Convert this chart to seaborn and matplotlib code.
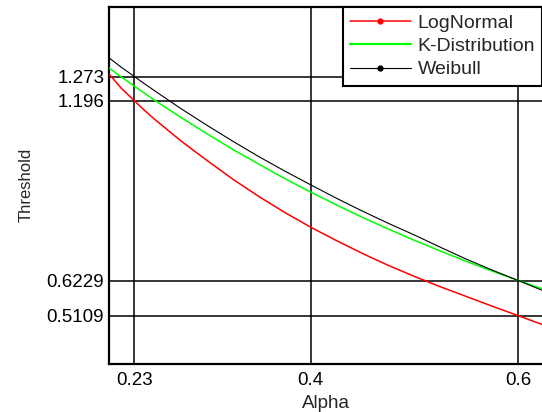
import numpy as np
import pandas as pd
import matplotlib
matplotlib.use("Agg")
import matplotlib.pyplot as plt
from matplotlib.lines import Line2D
import seaborn as sns

# =====================================================
# Data
# =====================================================

alpha = [0.2056, 0.2175, 0.24, 0.25, 0.275, 0.30, 0.325, 0.35, 0.375, 0.40,
         0.425, 0.45, 0.475, 0.50, 0.525, 0.55, 0.575, 0.60, 0.6228]

lognormal = [1.282, 1.236, 1.165, 1.136, 1.068, 1.006, 0.946, 0.891, 0.840, 0.793,
             0.750, 0.709, 0.671, 0.636, 0.603, 0.572, 0.541, 0.511, 0.483]
kdist = [1.301, 1.272, 1.220, 1.197, 1.143, 1.091, 1.041, 0.994, 0.948, 0.905,
         0.864, 0.824, 0.787, 0.751, 0.717, 0.684, 0.653, 0.623, 0.597]
weibull = [1.333, 1.303, 1.250, 1.227, 1.171, 1.118, 1.067, 1.018, 0.972, 0.928,
           0.885, 0.844, 0.805, 0.768, 0.729, 0.691, 0.656, 0.623, 0.592]

series_names = ["LogNormal", "K-Distribution", "Weibull"]
series_colors = ["#ff0000", "#00ff00", "#000000"]

x_ticks = [0.23, 0.4, 0.6]
x_tick_labels = ["0.23", "0.4", "0.6"]
y_ticks = [0.5109, 0.6229, 1.196, 1.273]
y_tick_labels = ["0.5109", "0.6229", "1.196", "1.273"]

df = pd.DataFrame({
    "Alpha": alpha * 3,
    "Threshold": lognormal + kdist + weibull,
    "Model": [n for n in series_names for _ in alpha],
})

# =====================================================
# Plot
# =====================================================

sns.set_style("white")
plt.rcParams["font.family"] = ["Liberation Sans", "DejaVu Sans"]

fig = plt.figure(figsize=(5.42, 4.12), dpi=100)
ax = fig.add_axes([109 / 542, 48.3 / 412, 433 / 542, 356.7 / 412])

sns.lineplot(
    data=df,
    x="Alpha",
    y="Threshold",
    hue="Model",
    palette=dict(zip(series_names, series_colors)),
    hue_order=series_names,
    legend=False,
    ax=ax,
)
widths = [1.1, 1.1, 0.8]
for line, lw in zip(ax.get_lines(), widths):
    line.set_linewidth(lw)
    line.set_zorder(3)

ax.set_xlim(0.2056, 0.6228)
ax.set_ylim(0.3578, 1.4952)

ax.set_xticks(x_ticks)
ax.set_xticklabels(x_tick_labels)
ax.set_yticks(y_ticks)
ax.set_yticklabels(y_tick_labels)
ax.tick_params(length=0, labelsize=13.5, colors="black")
ax.tick_params(axis="x", pad=6)
ax.tick_params(axis="y", pad=3.5)

ax.grid(True, color="black", linewidth=1.1)
ax.set_axisbelow(True)

for side in ["left", "bottom", "top"]:
    ax.spines[side].set_visible(True)
    ax.spines[side].set_color("black")
    ax.spines[side].set_linewidth(1.6)
ax.spines["right"].set_visible(False)

ax.set_xlabel("Alpha", fontsize=13.5, labelpad=4)
ax.set_ylabel("Threshold", fontsize=12, labelpad=9)

handles = [
    Line2D([], [], color=series_colors[0], lw=1.1, marker="o", markersize=3.5),
    Line2D([], [], color=series_colors[1], lw=1.6),
    Line2D([], [], color=series_colors[2], lw=0.8, marker="o", markersize=3.5),
]
leg = ax.legend(
    handles,
    series_names,
    loc="upper right",
    bbox_to_anchor=(1.0, 1.0),
    borderaxespad=0,
    fontsize=14,
    handlelength=3.1,
    handletextpad=0.36,
    labelspacing=0.3,
    borderpad=0.36,
    frameon=True,
    fancybox=False,
    framealpha=1,
)
leg.get_frame().set_edgecolor("black")
leg.get_frame().set_linewidth(1.5)

fig.savefig("out.png", dpi=100)
